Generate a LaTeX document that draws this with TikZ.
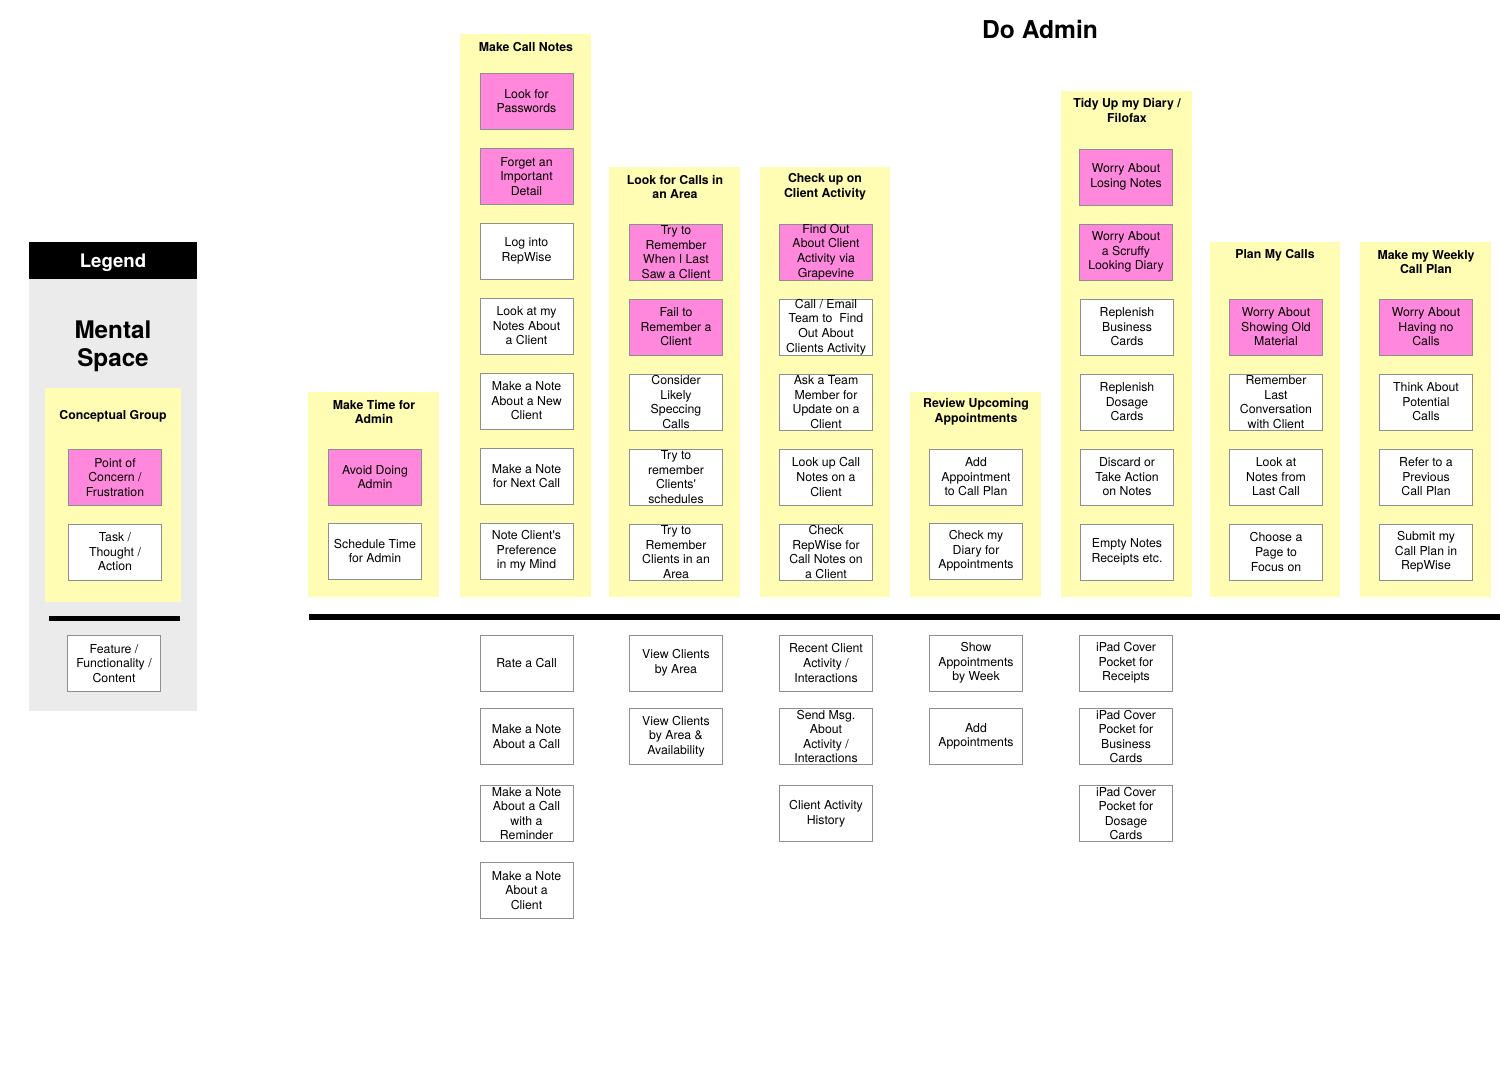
\documentclass[tikz,border=0pt]{standalone}
\usepackage{fontspec}
\setmainfont{TeX Gyre Heros}
\usepackage{tikz}

\definecolor{concernpink}{HTML}{FF88DC}
\definecolor{groupyellow}{HTML}{FFFCB3}
\definecolor{legendgray}{HTML}{EBEBEB}
\definecolor{boxline}{HTML}{8E8E8E}

\begin{document}
\begin{tikzpicture}[x=0.02cm,y=-0.02cm,
    box/.style={draw=boxline,line width=0.5pt,minimum width=1.86cm,minimum height=1.12cm,
        inner sep=0pt,align=center,font=\fontsize{7}{8.3}\selectfont},
    concern/.style={box,fill=concernpink},
    task/.style={box,fill=white},
    feature/.style={box,fill=white},
    gtitle/.style={align=center,inner sep=0pt,font=\fontsize{7}{8.3}\selectfont\bfseries},
    group/.style={fill=groupyellow}]
    \useasboundingbox (0,0) rectangle (1500,1065);

    % legend
    \fill[legendgray] (29,242) rectangle (197,711);
    \fill[black] (29,242) rectangle (197,279);
    \node[text=white,font=\fontsize{10.6}{12}\selectfont\bfseries] (legend) at (113,263) {Legend};
    \node[align=center,font=\fontsize{13.8}{16}\selectfont\bfseries] (mental) at (113,346.5) {Mental\\Space};
    \fill[group] (45,388) rectangle (181,602);
    \node[gtitle] (cgroup) at (113,416) {Conceptual Group};
    \node[concern] (lg1) at (115,477.5) {Point of\\Concern /\\Frustration};
    \node[task] (lg2) at (115,552) {Task /\\Thought /\\Action};
    \fill[black] (49,616) rectangle (180,621);
    \node[feature] (lg3) at (114,663.5) {Feature /\\Functionality /\\Content};

    \node[font=\fontsize{14}{16}\selectfont\bfseries] (title) at (1040,29) {Do Admin};

    % conceptual groups
    \fill[group] (308,392) rectangle (439,597);
    \fill[group] (460,34) rectangle (591,597);
    \fill[group] (609,167) rectangle (740,597);
    \fill[group] (760,167) rectangle (890,597);
    \fill[group] (910,392) rectangle (1041,597);
    \fill[group] (1061,91) rectangle (1192,597);
    \fill[group] (1210,242) rectangle (1340,597);
    \fill[group] (1360,242) rectangle (1491,597);

    \node[gtitle] (mt) at (374,412) {Make Time for\\Admin};
    \node[gtitle] (cn) at (526,47) {Make Call Notes};
    \node[gtitle] (la) at (675,187) {Look for Calls in\\an Area};
    \node[gtitle] (ca) at (825,187) {Check up on\\Client Activity};
    \node[gtitle] (ra) at (976,412) {Review Upcoming\\Appointments};
    \node[gtitle] (td) at (1127,110.5) {Tidy Up my Diary /\\Filofax};
    \node[gtitle] (pc) at (1275,255) {Plan My Calls};
    \node[gtitle] (wp) at (1426,262) {Make my Weekly\\Call Plan};

    % make time for admin
    \node[concern] (mt1) at (375,477) {Avoid Doing\\Admin};
    \node[task] (mt2) at (375,551) {Schedule Time\\for Admin};

    % make call notes
    \node[concern] (cn1) at (526.5,101) {Look for\\Passwords};
    \node[concern] (cn2) at (526.5,176.5) {Forget an\\Important\\Detail};
    \node[task] (cn3) at (526.5,251) {Log into\\RepWise};
    \node[task] (cn4) at (526.5,326) {Look at my\\Notes About\\a Client};
    \node[task] (cn5) at (526.5,401) {Make a Note\\About a New\\Client};
    \node[task] (cn6) at (526.5,476) {Make a Note\\for Next Call};
    \node[task] (cn7) at (526.5,551) {Note Client\textquotesingle s\\Preference\\in my Mind};

    % look for calls in an area
    \node[concern] (la1) at (676,252) {Try to\\Remember\\When I Last\\Saw a Client};
    \node[concern] (la2) at (676,327) {Fail to\\Remember a\\Client};
    \node[task] (la3) at (676,402) {Consider\\Likely\\Speccing\\Calls};
    \node[task] (la4) at (676,477) {Try to\\remember\\Clients\textquotesingle\\schedules};
    \node[task] (la5) at (676,552) {Try to\\Remember\\Clients in an\\Area};

    % check up on client activity
    \node[concern] (ca1) at (826,252) {Find Out\\About Client\\Activity via\\Grapevine};
    \node[task] (ca2) at (826,327) {Call / Email\\Team to~ Find\\Out About\\Clients Activity};
    \node[task] (ca3) at (826,402) {Ask a Team\\Member for\\Update on a\\Client};
    \node[task] (ca4) at (826,477) {Look up Call\\Notes on a\\Client};
    \node[task] (ca5) at (826,552) {Check\\RepWise for\\Call Notes on\\a Client};

    % review upcoming appointments
    \node[task] (ra1) at (976,477) {Add\\Appointment\\to Call Plan};
    \node[task] (ra2) at (976,551) {Check my\\Diary for\\Appointments};

    % tidy up my diary
    \node[concern] (td1) at (1126,177) {Worry About\\Losing Notes};
    \node[concern] (td2) at (1126,252) {Worry About\\a Scruffy\\Looking Diary};
    \node[task] (td3) at (1127,327) {Replenish\\Business\\Cards};
    \node[task] (td4) at (1127,402) {Replenish\\Dosage\\Cards};
    \node[task] (td5) at (1127,477) {Discard or\\Take Action\\on Notes};
    \node[task] (td6) at (1127,552) {Empty Notes\\Receipts etc.};

    % plan my calls
    \node[concern] (pc1) at (1276,327) {Worry About\\Showing Old\\Material};
    \node[task] (pc2) at (1276,402) {Remember\\Last\\Conversation\\with Client};
    \node[task] (pc3) at (1276,477) {Look at\\Notes from\\Last Call};
    \node[task] (pc4) at (1276,552) {Choose a\\Page to\\Focus on};

    % make my weekly call plan
    \node[concern] (wp1) at (1426,327) {Worry About\\Having no\\Calls};
    \node[task] (wp2) at (1426,402) {Think About\\Potential\\Calls};
    \node[task] (wp3) at (1426,477) {Refer to a\\Previous\\Call Plan};
    \node[task] (wp4) at (1426,552) {Submit my\\Call Plan in\\RepWise};

    % line of visibility
    \fill[black] (309,614) rectangle (1500,620);

    % features
    \node[feature] (cnf1) at (526.5,663) {Rate a Call};
    \node[feature] (cnf2) at (526.5,736.5) {Make a Note\\About a Call};
    \node[feature] (cnf3) at (526.5,813.5) {Make a Note\\About a Call\\with a\\Reminder};
    \node[feature] (cnf4) at (526.5,890.5) {Make a Note\\About a\\Client};
    \node[feature] (laf1) at (676,663) {View Clients\\by Area};
    \node[feature] (laf2) at (676,736.5) {View Clients\\by Area \&\\Availability};
    \node[feature] (caf1) at (826,663) {Recent Client\\Activity /\\Interactions};
    \node[feature] (caf2) at (826,736.5) {Send Msg.\\About\\Activity /\\Interactions};
    \node[feature] (caf3) at (826,813.5) {Client Activity\\History};
    \node[feature] (raf1) at (976,663) {Show\\Appointments\\by Week};
    \node[feature] (raf2) at (976,736.5) {Add\\Appointments};
    \node[feature] (tdf1) at (1126,663) {iPad Cover\\Pocket for\\Receipts};
    \node[feature] (tdf2) at (1126,736.5) {iPad Cover\\Pocket for\\Business\\Cards};
    \node[feature] (tdf3) at (1126,813.5) {iPad Cover\\Pocket for\\Dosage\\Cards};
\end{tikzpicture}
\end{document}
